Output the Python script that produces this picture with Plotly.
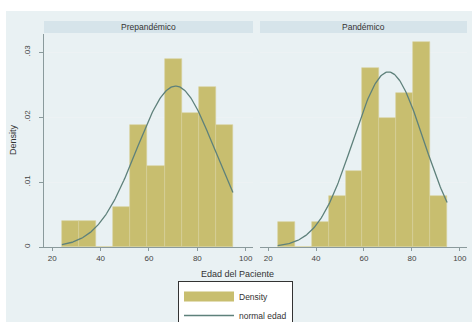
import numpy as np
import plotly.graph_objects as go

# ---------------- data ----------------
bin_centers = [27.54, 34.61, 41.68, 48.75, 55.82, 62.89, 69.96, 77.03, 84.10, 91.17]
bin_width = 7.07
pre_density = [0.0040, 0.0040, 0.0, 0.0061, 0.0188, 0.0124, 0.0290, 0.0207, 0.0247, 0.0188]
pan_density = [0.0038, 0.0, 0.0038, 0.0078, 0.0117, 0.0275, 0.0198, 0.0237, 0.0316, 0.0078]
pre_mean, pre_sd = 71.0, 16.1
pan_mean, pan_sd = 70.2, 14.8
age_min, age_max = 24.0, 94.7
panel_titles = ["Prepandémico", "Pandémico"]
x_ticks = [20, 40, 60, 80, 100]
y_ticks = [0, 0.01, 0.02, 0.03]
y_ticklabels = ["0", ".01", ".02", ".03"]

BAR = "#c8be6f"
BAR_LINE = "#d9d29c"
CURVE = "#5e817b"
BG = "#e9f1f3"
STRIP = "#d6e4ea"
FONT = "Liberation Sans, Arial, sans-serif"

W, H = 472, 322
def px(x): return x / W
def py(y): return 1 - y / H

dom_l = [px(44), px(253)]
dom_r = [px(260), px(467)]
ydom = [py(247), py(34)]

fig = go.Figure()

def normal_pdf(x, m, s):
    return np.exp(-0.5 * ((x - m) / s) ** 2) / (s * np.sqrt(2 * np.pi))

xs = np.linspace(age_min, age_max, 200)
for i, (dens, m, s) in enumerate([(pre_density, pre_mean, pre_sd), (pan_density, pan_mean, pan_sd)]):
    xa = "x" if i == 0 else "x2"
    ya = "y" if i == 0 else "y2"
    fig.add_trace(go.Bar(x=bin_centers, y=dens, width=bin_width, xaxis=xa, yaxis=ya,
                         marker=dict(color=BAR, line=dict(color=BAR_LINE, width=0.6)),
                         showlegend=False, name="Density"))
    fig.add_trace(go.Scatter(x=xs, y=normal_pdf(xs, m, s), mode="lines", xaxis=xa, yaxis=ya,
                             line=dict(color=CURVE, width=1.3), showlegend=False, name="normal edad"))

# legend-only entries
fig.add_trace(go.Scatter(x=[None], y=[None], mode="lines", name="Density",
                         line=dict(color=BAR, width=10)))
fig.add_trace(go.Scatter(x=[None], y=[None], mode="lines", name="normal edad",
                         line=dict(color=CURVE, width=1.3)))

xaxis_common = dict(range=[16.6, 103.0], tickvals=x_ticks, ticks="outside", ticklen=3,
                    tickcolor="#8a9a9c", showline=True, linecolor="#8a9a9c", linewidth=1,
                    showgrid=False, zeroline=False,
                    tickfont=dict(family=FONT, size=8, color="#444"))
yaxis_common = dict(range=[0, 0.0328], tickvals=y_ticks, showgrid=True, gridcolor="#edf2f4",
                    gridwidth=1, zeroline=False, domain=ydom)

fig.update_layout(
    width=W, height=H, margin=dict(l=0, r=0, t=0, b=0, autoexpand=False),
    paper_bgcolor="white", plot_bgcolor="white", bargap=0,
    font=dict(family=FONT, color="#333"),
    xaxis=dict(domain=dom_l, anchor="y", **xaxis_common),
    xaxis2=dict(domain=dom_r, anchor="y2", **xaxis_common),
    yaxis=dict(anchor="x", ticktext=y_ticklabels, tickangle=-90, ticks="outside", ticklen=4,
               tickcolor="#8a9a9c", showline=True, linecolor="#8a9a9c", linewidth=1,
               ticklabelstandoff=6,
               tickfont=dict(family=FONT, size=8, color="#444"), **yaxis_common),
    yaxis2=dict(anchor="x2", matches="y", showticklabels=False, ticks="", showline=False,
                **yaxis_common),
    legend=dict(x=px(178), y=py(281), xanchor="left", yanchor="top",
                bgcolor="white", bordercolor="#333", borderwidth=1,
                font=dict(family=FONT, size=8.5, color="#333"), itemwidth=50,
                tracegroupgap=0),
    showlegend=True,
)

shapes = [dict(type="rect", xref="paper", yref="paper", x0=px(6), x1=1, y0=0, y1=py(11),
               fillcolor=BG, line=dict(width=0), layer="below")]
annots = []
for dom, title in [(dom_l, panel_titles[0]), (dom_r, panel_titles[1])]:
    shapes.append(dict(type="rect", xref="paper", yref="paper", x0=dom[0], x1=dom[1],
                       y0=py(33), y1=py(21), fillcolor=STRIP, line=dict(width=0), layer="below"))
    annots.append(dict(xref="paper", yref="paper", x=(dom[0] + dom[1]) / 2, y=py(27),
                       text=title, showarrow=False, xanchor="center", yanchor="middle",
                       font=dict(family=FONT, size=8.5, color="#333")))
annots.append(dict(xref="paper", yref="paper", x=px(13), y=py(140), text="Density",
                   textangle=-90, showarrow=False, xanchor="center", yanchor="middle",
                   font=dict(family=FONT, size=9, color="#333")))
annots.append(dict(xref="paper", yref="paper", x=px(237), y=py(274), text="Edad del Paciente",
                   showarrow=False, xanchor="center", yanchor="middle",
                   font=dict(family=FONT, size=9, color="#333")))
fig.update_layout(shapes=shapes, annotations=annots)

fig.write_html("out.html", config={"displayModeBar": False},
               post_script="document.body.style.margin='0';document.body.style.overflow='hidden';")
